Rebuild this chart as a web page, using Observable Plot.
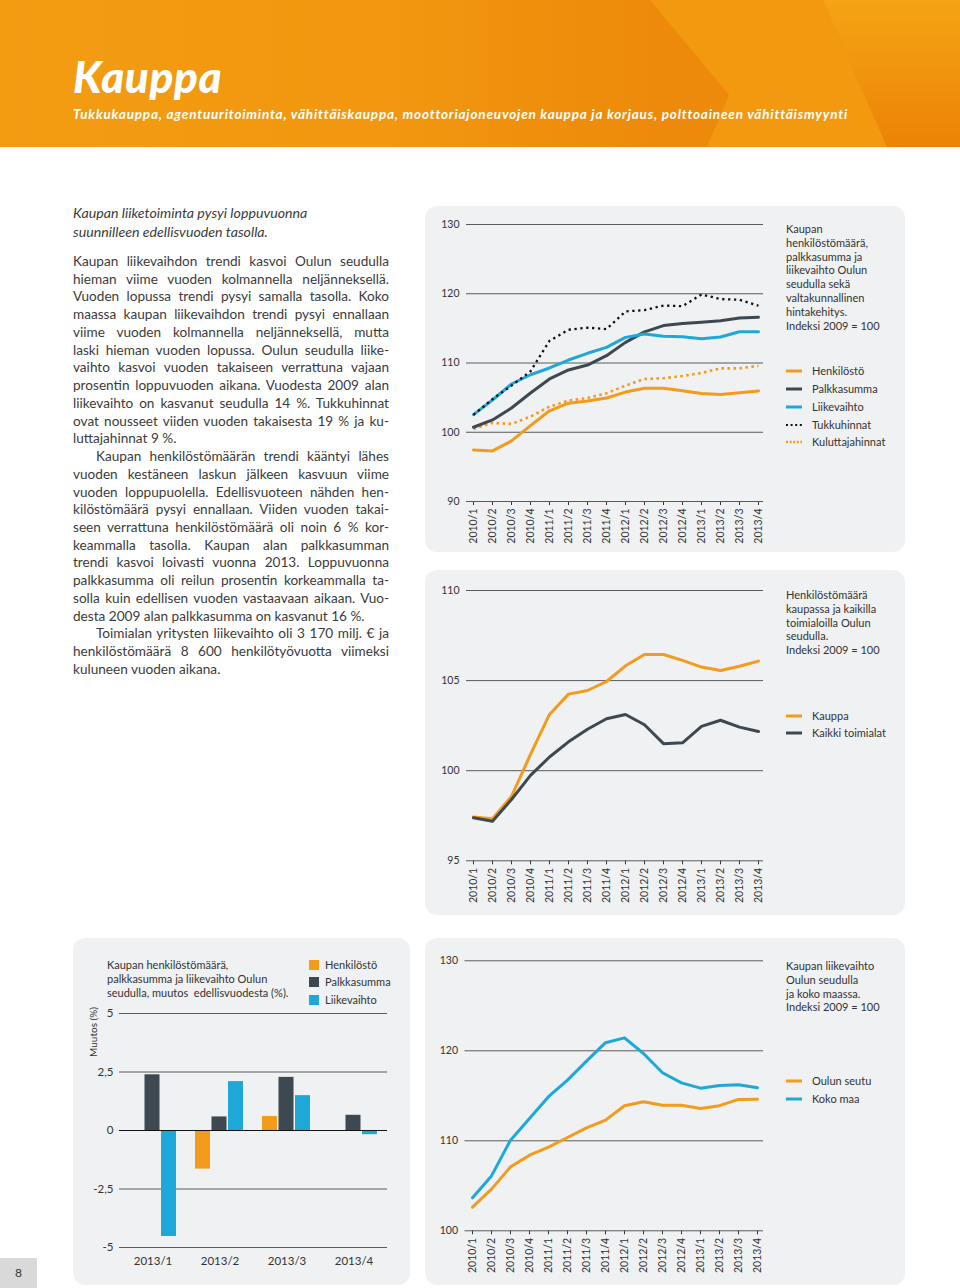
<!DOCTYPE html>
<html><head><meta charset="utf-8">
<script src="https://cdn.jsdelivr.net/npm/d3@7"></script>
<script src="https://cdn.jsdelivr.net/npm/@observablehq/plot@0.6"></script>
<style>
html,body{margin:0;padding:0;background:#fff;}
body{width:960px;height:1288px;position:relative;overflow:hidden;font-family:Lato,"Open Sans",sans-serif;color:#3b3b3b;}
.abs{position:absolute;}
#header{left:0;top:0;width:960px;height:147px;overflow:hidden;background:linear-gradient(90deg,#f39c12 0%,#f2970f 40%,#ed8a0b 68%,#ee8b0b 100%);}
#header h1{position:absolute;left:73px;top:51px;margin:0;font-size:44px;font-weight:900;font-style:italic;color:#fff;line-height:50px;letter-spacing:0.6px;}
#header .sub{position:absolute;left:73px;top:106px;font-size:13.5px;font-weight:700;font-style:italic;color:#fff;letter-spacing:0.8px;white-space:nowrap;}
.card{position:absolute;background:#eff1f2;border-radius:12px;}
#intro{left:73px;top:203px;width:330px;font-size:14.2px;line-height:19px;font-style:italic;color:#3b3b3b;}
#body{left:73px;top:253px;width:316px;font-size:13.6px;line-height:17.74px;color:#3b3b3b;}
#body .l{text-align:justify;text-align-last:justify;}
#body .e{text-align:left;text-align-last:left;}
#body .i{text-indent:23px;}
.lt{position:absolute;font-size:11px;line-height:13.8px;color:#333;}
.li{position:absolute;font-size:11px;line-height:14px;color:#333;white-space:nowrap;}
.li svg{position:absolute;left:0;top:4px;}
.li span{position:absolute;left:26px;top:0;}
.bl{position:absolute;font-size:11px;line-height:14px;color:#333;white-space:nowrap;}
.bl i{position:absolute;left:0;top:2px;width:10px;height:10px;}
.bl span{position:absolute;left:16px;top:0;}
#pnum{left:0;top:1258px;width:37px;height:30px;background:#d9d9d9;font-size:12px;color:#333;text-align:center;line-height:30px;}
#ylab{left:93px;top:1032px;transform:translate(-50%,-50%) rotate(-90deg);font-size:10px;color:#333;white-space:nowrap;}
</style>
</head>
<body>
<div id="header" class="abs">
  <svg width="960" height="147" style="position:absolute;left:0;top:0">
    <defs><linearGradient id="gR" x1="0" y1="0" x2="0" y2="1"><stop offset="0" stop-color="#f5a414"/><stop offset="1" stop-color="#ec8306"/></linearGradient></defs>
    <polygon points="650,0 729,95 707,147 887,147 823,0" fill="#f3990f"/>
    <polygon points="823,0 960,0 960,147 887,147" fill="url(#gR)"/>
  </svg>
  <h1>Kauppa</h1>
  <div class="sub">Tukkukauppa, agentuuritoiminta, vähittäiskauppa, moottoriajoneuvojen kauppa ja korjaus, polttoaineen vähittäismyynti</div>
</div>

<div id="intro" class="abs">Kaupan liiketoiminta pysyi loppuvuonna<br>suunnilleen edellisvuoden tasolla.</div>
<div id="body" class="abs">
<div class="l">Kaupan liikevaihdon trendi kasvoi Oulun seudulla</div>
<div class="l">hieman viime vuoden kolmannella neljänneksellä.</div>
<div class="l">Vuoden lopussa trendi pysyi samalla tasolla. Koko</div>
<div class="l">maassa kaupan liikevaihdon trendi pysyi ennallaan</div>
<div class="l">viime vuoden kolmannella neljänneksellä, mutta</div>
<div class="l">laski hieman vuoden lopussa. Oulun seudulla liike-</div>
<div class="l">vaihto kasvoi vuoden takaiseen verrattuna vajaan</div>
<div class="l">prosentin loppuvuoden aikana. Vuodesta 2009 alan</div>
<div class="l">liikevaihto on kasvanut seudulla 14 %. Tukkuhinnat</div>
<div class="l">ovat nousseet viiden vuoden takaisesta 19 % ja ku-</div>
<div class="l e">luttajahinnat 9 %.</div>
<div class="l i">Kaupan henkilöstömäärän trendi kääntyi lähes</div>
<div class="l">vuoden kestäneen laskun jälkeen kasvuun viime</div>
<div class="l">vuoden loppupuolella. Edellisvuoteen nähden hen-</div>
<div class="l">kilöstömäärä pysyi ennallaan. Viiden vuoden takai-</div>
<div class="l">seen verrattuna henkilöstömäärä oli noin 6 % kor-</div>
<div class="l">keammalla tasolla. Kaupan alan palkkasumman</div>
<div class="l">trendi kasvoi loivasti vuonna 2013. Loppuvuonna</div>
<div class="l">palkkasumma oli reilun prosentin korkeammalla ta-</div>
<div class="l">solla kuin edellisen vuoden vastaavaan aikaan. Vuo-</div>
<div class="l e">desta 2009 alan palkkasumma on kasvanut 16 %.</div>
<div class="l i">Toimialan yritysten liikevaihto oli 3 170 milj. € ja</div>
<div class="l">henkilöstömäärä 8 600 henkilötyövuotta viimeksi</div>
<div class="l e">kuluneen vuoden aikana.</div>
</div>

<div class="card" style="left:425px;top:206px;width:480px;height:346px"></div>
<div class="card" style="left:425px;top:570px;width:480px;height:345px"></div>
<div class="card" style="left:73px;top:938px;width:337px;height:347px"></div>
<div class="card" style="left:425px;top:938px;width:480px;height:347px"></div>

<div id="c1" class="abs" style="left:425px;top:205px"></div>
<div id="c2" class="abs" style="left:425px;top:570px"></div>
<div id="c3" class="abs" style="left:73px;top:938px"></div>
<div id="c4" class="abs" style="left:425px;top:938px"></div>

<div class="lt" style="left:786px;top:222px">Kaupan<br>henkilöstömäärä,<br>palkkasumma ja<br>liikevaihto Oulun<br>seudulla sekä<br>valtakunnallinen<br>hintakehitys.<br>Indeksi 2009 = 100</div>
<div id="leg1"></div>
<div class="lt" style="left:786px;top:588px">Henkilöstömäärä<br>kaupassa ja kaikilla<br>toimialoilla Oulun<br>seudulla.<br>Indeksi 2009 = 100</div>
<div id="leg2"></div>
<div class="lt" style="left:786px;top:959px">Kaupan liikevaihto<br>Oulun seudulla<br>ja koko maassa.<br>Indeksi 2009 = 100</div>
<div id="leg4"></div>
<div class="lt" style="left:107px;top:958px;font-size:11px;line-height:14px">Kaupan henkilöstömäärä,<br>palkkasumma ja liikevaihto Oulun<br>seudulla, muutos&nbsp; edellisvuodesta (%).</div>
<div id="leg3"></div>
<div id="ylab" class="abs">Muutos (%)</div>
<div id="pnum" class="abs">8</div>

<script>
// ---------- DATA ----------
const quarters = ["2010/1","2010/2","2010/3","2010/4","2011/1","2011/2","2011/3","2011/4","2012/1","2012/2","2012/3","2012/4","2013/1","2013/2","2013/3","2013/4"];

// Chart 1: index 2009 = 100
const henkilosto      = [97.45, 97.3, 98.75, 100.96, 103.1, 104.2, 104.5, 104.95, 105.8, 106.35, 106.35, 106.0, 105.6, 105.45, 105.7, 105.96];
const palkkasumma     = [100.72, 101.78, 103.5, 105.67, 107.7, 109.0, 109.7, 111.06, 112.98, 114.5, 115.4, 115.7, 115.87, 116.1, 116.5, 116.6];
const liikevaihto     = [102.55, 104.66, 106.97, 108.3, 109.28, 110.43, 111.4, 112.26, 113.7, 114.2, 113.85, 113.8, 113.5, 113.75, 114.52, 114.52];
const tukkuhinnat     = [102.5, 104.8, 106.73, 108.8, 113.2, 114.8, 115.1, 114.9, 117.45, 117.64, 118.3, 118.2, 119.9, 119.23, 119.13, 118.27];
const kuluttajahinnat = [100.48, 101.35, 101.2, 102.26, 103.7, 104.57, 104.95, 105.63, 106.73, 107.7, 107.8, 108.13, 108.56, 109.23, 109.23, 109.6];

// Chart 2: henkilöstömäärä
const kauppa          = [97.43, 97.34, 98.58, 100.9, 103.12, 104.25, 104.45, 104.95, 105.82, 106.45, 106.45, 106.12, 105.75, 105.56, 105.8, 106.08];
const kaikkiToimialat = [97.39, 97.2, 98.4, 99.74, 100.76, 101.6, 102.3, 102.88, 103.12, 102.55, 101.5, 101.55, 102.46, 102.8, 102.42, 102.18];

// Chart 4: liikevaihto
const oulunSeutu = [102.63, 104.63, 107.1, 108.4, 109.3, 110.37, 111.44, 112.3, 113.9, 114.33, 113.96, 113.96, 113.6, 113.9, 114.6, 114.63];
const kokoMaa    = [103.67, 106.1, 110.07, 112.48, 114.9, 116.74, 118.85, 120.9, 121.44, 119.7, 117.56, 116.44, 115.85, 116.15, 116.22, 115.9];

// Chart 3: muutos edellisvuodesta (%)
const barQuarters = ["2013/1","2013/2","2013/3","2013/4"];
const barHenkilosto   = [0, -1.65, 0.6, 0];
const barPalkkasumma  = [2.38, 0.58, 2.27, 0.65];
const barLiikevaihto  = [-4.53, 2.09, 1.49, -0.18];

// ---------- STYLE ----------
const ORANGE = "#f29b1d", DARK = "#3d4851", BLUE = "#1ea8d8", BLACK = "#111";
const GRID = "#5a5a5a";
const baseStyle = {background: "transparent", fontFamily: "Lato, sans-serif", fontSize: "10.5px", color: "#333", overflow: "visible"};

const series = (arr) => quarters.map((q, i) => ({q, v: arr[i]}));

function lineChart({yDomain, yTicks, lines, width, height, mt, mb, ml, mr}) {
  return Plot.plot({
    width, height, marginTop: mt, marginBottom: mb, marginLeft: ml, marginRight: mr,
    style: baseStyle,
    x: {type: "point", domain: quarters, padding: 0, insetLeft: 5, insetRight: 3, label: null, tickRotate: -90, tickSize: 4, tickPadding: 3},
    y: {domain: yDomain, ticks: yTicks, label: null, tickSize: 0, tickPadding: 7},
    marks: [
      Plot.ruleY(yTicks, {stroke: GRID, strokeWidth: 1}),
      ...lines.map(l => Plot.line(series(l.data), {x: "q", y: "v", stroke: l.color, strokeWidth: l.w ?? 3, strokeDasharray: l.dash, strokeLinecap: l.dash ? "butt" : "round", strokeLinejoin: "round"}))
    ]
  });
}

document.getElementById("c1").append(lineChart({
  width: 345, height: 345, mt: 19, mb: 49, ml: 41, mr: 7,
  yDomain: [90, 130], yTicks: [90, 100, 110, 120, 130],
  lines: [
    {data: kuluttajahinnat, color: ORANGE, w: 2.6, dash: "2.6,3.4"},
    {data: henkilosto, color: ORANGE},
    {data: palkkasumma, color: DARK},
    {data: liikevaihto, color: BLUE},
    {data: tukkuhinnat, color: BLACK, w: 2.3, dash: "2.3,3.6"}
  ]
}));

document.getElementById("c2").append(lineChart({
  width: 345, height: 345, mt: 20, mb: 54.7, ml: 41, mr: 7,
  yDomain: [95, 110], yTicks: [95, 100, 105, 110],
  lines: [
    {data: kauppa, color: ORANGE},
    {data: kaikkiToimialat, color: DARK}
  ]
}));

document.getElementById("c4").append(lineChart({
  width: 345, height: 347, mt: 22.3, mb: 54.7, ml: 39.5, mr: 7,
  yDomain: [100, 130], yTicks: [100, 110, 120, 130],
  lines: [
    {data: kokoMaa, color: BLUE},
    {data: oulunSeutu, color: ORANGE}
  ]
}));

const barRows = barQuarters.map((q, i) => ({q, h: barHenkilosto[i], p: barPalkkasumma[i], l: barLiikevaihto[i]}));
document.getElementById("c3").append(Plot.plot({
  width: 337, height: 347, marginTop: 75, marginBottom: 38, marginLeft: 46, marginRight: 23,
  style: {...baseStyle, fontSize: "11.5px"},
  x: {domain: barQuarters, padding: 0, label: null, tickSize: 0, tickPadding: 9},
  y: {domain: [-5, 5], ticks: [-5, -2.5, 0, 2.5, 5], tickFormat: d => String(d).replace(".", ","), label: null, tickSize: 0, tickPadding: 6},
  marks: [
    Plot.ruleY([-5, -2.5, 2.5, 5], {stroke: GRID, strokeWidth: 1}),
    Plot.barY(barRows, {x: "q", y: "h", fill: ORANGE, insetLeft: 9, insetRight: 43}),
    Plot.barY(barRows, {x: "q", y: "p", fill: DARK, insetLeft: 25.5, insetRight: 26.5}),
    Plot.barY(barRows, {x: "q", y: "l", fill: BLUE, insetLeft: 42, insetRight: 10}),
    Plot.ruleY([0], {stroke: "#111", strokeWidth: 1})
  ]
}));

// ---------- LEGENDS ----------
function lineLegend(id, items, left, centers) {
  const host = document.getElementById(id);
  items.forEach((it, i) => {
    const d = document.createElement("div");
    d.className = "li";
    d.style.left = left + "px";
    d.style.top = (centers[i] - 7) + "px";
    const dash = it.dash ? `stroke-dasharray="${it.dash}"` : "";
    d.innerHTML = `<svg width="18" height="6"><line x1="0" y1="3" x2="16" y2="3" stroke="${it.color}" stroke-width="${it.w || 3}" ${dash}/></svg><span>${it.label}</span>`;
    host.append(d);
  });
}
lineLegend("leg1", [
  {label: "Henkilöstö", color: ORANGE},
  {label: "Palkkasumma", color: DARK},
  {label: "Liikevaihto", color: BLUE},
  {label: "Tukkuhinnat", color: BLACK, w: 2, dash: "2,2.6"},
  {label: "Kuluttajahinnat", color: ORANGE, w: 2.4, dash: "2,1.6"}
], 786, [371, 389, 407, 425, 442]);
lineLegend("leg2", [
  {label: "Kauppa", color: ORANGE},
  {label: "Kaikki toimialat", color: DARK}
], 786, [716, 733]);
lineLegend("leg4", [
  {label: "Oulun seutu", color: ORANGE},
  {label: "Koko maa", color: BLUE}
], 786, [1081, 1099]);

const leg3 = document.getElementById("leg3");
[["Henkilöstö", ORANGE, 965], ["Palkkasumma", DARK, 982], ["Liikevaihto", BLUE, 1000]].forEach(([t, c, y]) => {
  const d = document.createElement("div");
  d.className = "bl";
  d.style.left = "309px";
  d.style.top = (y - 7) + "px";
  d.innerHTML = `<i style="background:${c}"></i><span>${t}</span>`;
  leg3.append(d);
});
</script>
</body></html>
